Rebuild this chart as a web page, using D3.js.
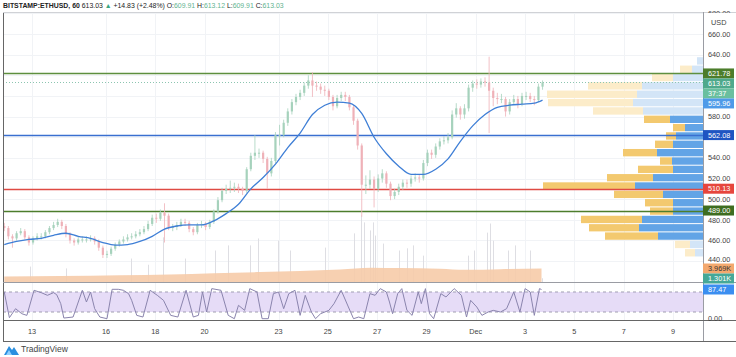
<!DOCTYPE html>
<html><head><meta charset="utf-8">
<script src="https://cdn.jsdelivr.net/npm/d3@7"></script>
<style>html,body{margin:0;padding:0;background:#fff;overflow:hidden}</style>
</head><body><svg id="c" width="736" height="357"></svg>
<script>
// ---------- DATA ----------
const startTime = Date.UTC(2020, 10, 11, 21); // first 4h candle
const candleHours = 4;
const open0 = 474;
const closes = [472,464,462,467,469,463,458,462,464,464,468,472,475,478,474,466,460,458,461,461,
461,462,459,453,446,447,452,456,459,461,463,464,466,468,471,476,482,481,487,484,
473,473,475,478,477,471,468,475,476,473,478,488,499,508,510,511,512,510,508,529,
542,545,545,539,525,537,562,562,574,585,594,599,603,610,615,610,609,606,605,599,
590,598,601,599,589,576,552,514,514,519,510,520,525,515,503,507,512,516,515,520,
521,520,535,545,543,551,556,557,560,582,588,582,588,608,612,611,614,613,605,598,
597,597,585,594,597,592,600,600,597,596,609,613.03];
const highs = [477,474,466,469,472,471,465,464,467,467,470,474,478,481,480,476,468,462,464,464,
464,465,464,461,455,450,454,458,461,464,466,467,469,471,474,479,485,486,490,496,
486,476,478,481,481,479,473,477,479,478,480,490,502,511,514,518,516,515,512,531,
545,562,549,547,541,540,565,572,577,588,597,602,606,613,620,623,614,612,610,607,
601,601,604,604,601,591,578,554,523,528,522,524,529,527,517,510,515,519,519,523,
525,524,538,548,548,554,559,561,564,586,593,590,592,611,615,616,617,618,638,608,
603,602,599,597,601,600,603,604,603,600,612,615];
const lows = [469,461,453,460,465,461,455,456,460,461,462,466,470,473,471,463,457,455,456,458,
458,459,456,450,443,443,445,450,454,457,459,461,462,464,466,469,474,477,479,458,
470,469,470,473,474,468,465,466,472,470,471,476,486,497,505,506,507,506,504,506,
527,538,540,535,510,522,535,552,560,571,582,591,596,600,607,599,605,602,600,596,
586,588,595,595,586,572,548,483,505,510,492,507,516,511,499,500,504,509,511,512,
517,516,518,532,539,540,548,553,554,558,579,577,578,585,604,607,608,609,564,590,
592,593,580,582,592,588,590,596,594,591,594,606];
// moving average, every 12h, plus last value
const maHours = [0,12,24,36,48,60,72,84,96,108,120,132,144,156,168,180,192,204,216,228,240,252,264,276,288,300,312,324,336,348,360,372,384,396,408,420,432,444,456,468,480,492,504,516,524];
const maValues = [456,459,461,462,465,467,464,462,458,455.5,456,459,464,471,474,475,475,479,486,495,510,521,534,550,564,582,591,594,593,583,560,544,532,524,524,529,539,556,571,582,589,591,592,593,595.96];
// volume (thousands) – visible spikes
const volHours = [25,60,123,140,155,176,205,218,239,247,266,278,312,340,347,350,356,359,361,369,384,392,398,408,451,457,470,473,476,490,497,512,523];
const volValues = [4.5,4.0,6.7,5.0,12.5,6.7,8.9,10.3,10.3,12.2,11.6,8.9,9.7,13.6,18.5,16.6,14.4,16.6,13.0,10.8,8.9,9.5,10.3,7.5,7.5,8.9,13.8,16.3,11.6,8.9,10.3,8.9,1.301];
// volume moving average (thousands)
const volMaHours = [0,54,113,161,204,249,288,327,357,385,424,449,483,523];
const volMaValues = [1.8,1.9,2.1,2.3,2.7,3.0,3.3,3.7,4.2,4.1,3.9,3.6,3.8,3.969];
// Stoch RSI %K
const stochHours = [0,5,11,17,22,29,36,42,48,51,55,58,67,76,80,84,88,93,100,105,111,116,121,124,129,135,142,149,155,162,169,177,184,189,193,197,202,211,218,224,228,234,239,246,251,257,262,267,272,277,283,288,293,299,303,308,316,321,328,335,340,345,350,356,361,366,372,375,378,383,387,392,397,403,406,410,414,418,425,430,438,445,450,454,460,465,471,476,483,489,496,502,507,512,516,521,523];
const stochValues = [80,3,30,15,10,85,78,70,78,72,45,2,5,85,50,80,30,5,0,88,88,85,75,55,10,5,85,70,55,10,5,85,5,10,80,20,90,85,10,0,40,25,90,80,0,0,75,80,30,75,85,10,70,20,0,15,25,45,85,35,0,5,0,75,70,90,80,50,15,75,90,25,10,80,45,90,15,0,75,65,90,70,5,55,35,10,20,25,20,30,80,20,90,80,10,90,87.47];
// volume profile (24 rows)
const vpRowLow = [444,452.1,460.2,468.3,476.3,484.4,492.5,500.6,508.7,516.8,524.8,532.9,541,549.1,557.2,565.3,573.3,581.4,589.5,597.6,605.7,613.8,621.8,629.9];
const vpRowHigh = 638;
const vpUp =   [1.0,1.5,5.3,5.0,6.1,2.3,2.8,4.9,9.2,4.6,3.5,1.2,3.4,1.8,1.0,1.2,2.6,5.0,8.5,9.0,5.4,2.1,1.2,0];
const vpDown = [0.8,1.3,4.5,6.4,6.1,3.0,3.0,4.0,6.8,5.0,3.0,3.1,4.6,3.0,2.7,1.8,3.3,6.0,7.0,6.6,6.1,3.0,1.1,0.6];
const valueAreaLow = 460.2, valueAreaHigh = 581.4;
// levels
const levels = [621.78, 562.08, 510.13, 489.00];
const levelColors = ["#5e8f3e", "#3a6fd0", "#df4a43", "#4d7d2c"];
const lastPrice = 613.03;
const priceTicks = [440,460,480,500,520,540,560,580,600,620,640,660,680];
const dateTicks = [[2020,10,13,"13"],[2020,10,16,"16"],[2020,10,18,"18"],[2020,10,20,"20"],[2020,10,23,"23"],[2020,10,25,"25"],[2020,10,27,"27"],[2020,10,29,"29"],[2020,11,1,"Dec"],[2020,11,3,"3"],[2020,11,5,"5"],[2020,11,7,"7"],[2020,11,9,"9"]];

// ---------- SCALES ----------
const H = 3600e3;
const tAt = h => new Date(startTime + h * H);
const x = d3.scaleUtc().domain([new Date(Date.UTC(2020,10,13)), new Date(Date.UTC(2020,11,9))]).range([32, 673]);
const y = d3.scaleLinear().domain([440, 660]).range([261.1, 34]);
const yVol = d3.scaleLinear().domain([0, 10]).range([283, 246.5]);
const yOsc = d3.scaleLinear().domain([0, 100]).range([318.7, 285.3]);
const wVP = d3.scaleLinear().domain([0, 16]).range([0, 160]);

const L = 3, R = 703, T = 12, SEP = 282.5, AX = 320.5, AXB = 341;
const FONT = "'Liberation Sans', Arial, sans-serif";

const svg = d3.select("#c");
svg.append("rect").attr("width", 736).attr("height", 357).attr("fill", "#fff");
const defs = svg.append("defs");
defs.append("clipPath").attr("id", "main").append("rect").attr("x", L).attr("y", T).attr("width", R - L).attr("height", SEP - T);
defs.append("clipPath").attr("id", "osc").append("rect").attr("x", L).attr("y", SEP).attr("width", R - L).attr("height", AX - SEP);

// grid
const grid = svg.append("g");
dateTicks.forEach(d => {
  const xx = Math.round(x(new Date(Date.UTC(d[0], d[1], d[2])))) + 0.5;
  grid.append("line").attr("x1", xx).attr("x2", xx).attr("y1", T).attr("y2", AX).attr("stroke", "#f1f3f6");
});
priceTicks.forEach(p => {
  const yy = Math.round(y(p)) + 0.5;
  if (yy > T && yy < SEP) grid.append("line").attr("x1", L).attr("x2", R).attr("y1", yy).attr("y2", yy).attr("stroke", "#f1f3f6");
});

const main = svg.append("g").attr("clip-path", "url(#main)");

// volume spikes
volHours.forEach((h, i) => {
  const xx = Math.round(x(tAt(h))) + 0.5;
  main.append("line").attr("x1", xx).attr("x2", xx).attr("y1", yVol(0)).attr("y2", yVol(volValues[i]))
    .attr("stroke", "#dedee3").attr("stroke-width", 1);
});
// volume MA area
const volMa = volMaHours.map((h, i) => [h, volMaValues[i]]);
main.append("path").datum(volMa)
  .attr("d", d3.area().x(d => x(tAt(d[0]))).y0(yVol(0)).y1(d => yVol(d[1])).curve(d3.curveMonotoneX))
  .attr("fill", "#f6cba9").attr("fill-opacity", 0.9);

// volume profile
vpRowLow.forEach((lo, k) => {
  const hi = k < vpRowLow.length - 1 ? vpRowLow[k + 1] : vpRowHigh;
  const y0 = y(hi) + 0.5, h = y(lo) - y(hi) - 1;
  const pale = lo < valueAreaLow || lo >= valueAreaHigh;
  const wd = wVP(vpDown[k]), wu = wVP(vpUp[k]);
  main.append("rect").attr("x", R - wd).attr("y", y0).attr("width", wd).attr("height", h)
    .attr("fill", pale ? "#d3e5f7" : "#62a4e6");
  main.append("rect").attr("x", R - wd - wu).attr("y", y0).attr("width", wu).attr("height", h)
    .attr("fill", pale ? "#fcecc9" : "#f3c96f");
});

// level lines
levels.forEach((p, i) => {
  const yy = Math.round(y(p)) + 0.5;
  main.append("line").attr("x1", L).attr("x2", R).attr("y1", yy).attr("y2", yy)
    .attr("stroke", levelColors[i]).attr("stroke-width", 1.3);
});
// last price dotted
main.append("line").attr("x1", L).attr("x2", R).attr("y1", Math.round(y(lastPrice)) + 0.5).attr("y2", Math.round(y(lastPrice)) + 0.5)
  .attr("stroke", "#8cc5b0").attr("stroke-dasharray", "1,2");

// candles
const candles = closes.map((c, i) => ({ t: tAt(i * candleHours), o: i ? closes[i - 1] : open0, h: highs[i], l: lows[i], c }));
const cg = main.append("g");
candles.forEach(d => {
  const up = d.c >= d.o;
  const col = up ? "#a6d2bc" : "#efb1b8";
  const xx = x(d.t);
  cg.append("line").attr("x1", xx).attr("x2", xx).attr("y1", y(d.h)).attr("y2", y(d.l)).attr("stroke", col).attr("stroke-width", 0.8);
  const top = y(Math.max(d.o, d.c)), bot = y(Math.min(d.o, d.c));
  cg.append("rect").attr("x", xx - 1.1).attr("y", top).attr("width", 2.2).attr("height", Math.max(1, bot - top)).attr("fill", col);
});

// MA
const ma = maHours.map((h, i) => [h, maValues[i]]);
main.append("path").datum(ma)
  .attr("d", d3.line().x(d => x(tAt(d[0]))).y(d => y(d[1])).curve(d3.curveMonotoneX))
  .attr("fill", "none").attr("stroke", "#3f7fd6").attr("stroke-width", 1.3);

// oscillator pane
const osc = svg.append("g").attr("clip-path", "url(#osc)");
osc.append("rect").attr("x", L).attr("width", R - L).attr("y", yOsc(80)).attr("height", yOsc(20) - yOsc(80)).attr("fill", "#e6dcf7");
[80, 20].forEach(v => osc.append("line").attr("x1", L).attr("x2", R).attr("y1", yOsc(v)).attr("y2", yOsc(v))
  .attr("stroke", "#8d8aa0").attr("stroke-dasharray", "3,3").attr("stroke-width", 0.8));
const st = stochHours.map((h, i) => [h, stochValues[i]]);
osc.append("path").datum(st)
  .attr("d", d3.line().x(d => x(tAt(d[0]))).y(d => yOsc(d[1])))
  .attr("fill", "none").attr("stroke", "#8a84ad").attr("stroke-width", 1);

// frame
const fr = svg.append("g").attr("stroke", "#9a9ca3").attr("shape-rendering", "crispEdges");
fr.append("line").attr("x1", L).attr("x2", L).attr("y1", T).attr("y2", AXB).attr("stroke", "#666");
fr.append("line").attr("x1", L).attr("x2", 736).attr("y1", T).attr("y2", T).attr("stroke", "#d0d2d6");
fr.append("line").attr("x1", R).attr("x2", R).attr("y1", T).attr("y2", AXB);
fr.append("line").attr("x1", L).attr("x2", 736).attr("y1", SEP).attr("y2", SEP);
fr.append("line").attr("x1", L).attr("x2", 736).attr("y1", AX).attr("y2", AX).attr("stroke", "#666");
fr.append("line").attr("x1", L).attr("x2", 736).attr("y1", AXB).attr("y2", AXB).attr("stroke", "#666");

// label boxes (positions computed first, so overlapping tick labels can be hidden)
const BOXH = 10;
const boxes = [
  { txt: "621.78", bg: "#4c7d2b", fg: "#fff", yy: y(621.78) },
  { txt: "613.03", bg: "#4fa98c", fg: "#fff", yy: y(613.03) },
  { txt: "37:37", bg: "#6abf9f", fg: "#fff", yy: y(613.03) + 10 },
  { txt: "595.96", bg: "#4f9ae8", fg: "#fff", yy: y(595.96) },
  { txt: "562.08", bg: "#1f55c2", fg: "#fff", yy: y(562.08) },
  { txt: "510.13", bg: "#e6463d", fg: "#fff", yy: y(510.13) },
  { txt: "489.00", bg: "#3e6d20", fg: "#fff", yy: y(489.00) },
  { txt: "3.969K", bg: "#f3a86e", fg: "#333", yy: yVol(3.969) },
  { txt: "1.301K", bg: "#45a897", fg: "#fff", yy: yVol(1.301) },
  { txt: "87.47", bg: "#3b8ef0", fg: "#fff", yy: yOsc(87.47) }
];
for (let i = 1; i < boxes.length; i++) if (boxes[i].yy < boxes[i - 1].yy + BOXH) boxes[i].yy = boxes[i - 1].yy + BOXH;

// price axis labels
const ax = svg.append("g").attr("font-family", FONT).attr("font-size", 7.3).attr("fill", "#444");
priceTicks.forEach(p => {
  let yy = y(p);
  let nearest = null;
  boxes.forEach(b => { if (!nearest || Math.abs(b.yy - yy) < Math.abs(nearest.yy - yy)) nearest = b; });
  const d = yy - nearest.yy;
  if (Math.abs(d) < 6.5) return;               // hidden behind a label box
  if (Math.abs(d) < 9.5) yy += Math.sign(d) * (9.5 - Math.abs(d)); // nudge clear of the box
  ax.append("text").attr("x", 708).attr("y", yy).attr("dy", "0.35em").text(p.toFixed(2));
});
svg.append("rect").attr("x", 704).attr("y", T + 1).attr("width", 31).attr("height", 4).attr("fill", "#fff");
ax.append("text").attr("x", 711).attr("y", 22.5).attr("dy", "0.35em").text("USD");
ax.append("text").attr("x", 708).attr("y", yOsc(0)).attr("dy", "0.35em").text("0.00");

boxes.forEach(b => {
  svg.append("rect").attr("x", 703).attr("y", b.yy - BOXH / 2).attr("width", 31).attr("height", BOXH).attr("fill", b.bg);
  svg.append("text").attr("x", 708).attr("y", b.yy).attr("dy", "0.35em").attr("font-family", FONT).attr("font-size", 7.3)
    .attr("fill", b.fg).text(b.txt);
});

// time axis labels
dateTicks.forEach(d => {
  ax.append("text").attr("x", x(new Date(Date.UTC(d[0], d[1], d[2])))).attr("y", 331).attr("dy", "0.35em")
    .attr("text-anchor", "middle").text(d[3]);
});

// header
const hd = svg.append("text").attr("x", 3).attr("y", 8).attr("font-family", FONT).attr("font-size", 6.9).attr("fill", "#222");
hd.append("tspan").attr("font-weight", "bold").text("BITSTAMP:ETHUSD, 60");
hd.append("tspan").text(" 613.03 ");
hd.append("tspan").attr("fill", "#3aa57e").text("▲");
hd.append("tspan").text(" +14.83 (+2.48%) O:");
hd.append("tspan").attr("fill", "#5fb38f").text("609.91");
hd.append("tspan").text(" H:");
hd.append("tspan").attr("fill", "#5fb38f").text("613.12");
hd.append("tspan").text(" L:");
hd.append("tspan").attr("fill", "#5fb38f").text("609.91");
hd.append("tspan").text(" C:");
hd.append("tspan").attr("fill", "#5fb38f").text("613.03");

// logo
svg.append("path").attr("d", "M4,355 L9,346 L12,350 L14,347 L19,355 Z").attr("fill", "#2a8fe0");
svg.append("path").attr("d", "M6,355 L9,350 L12,355 Z").attr("fill", "#8fd0ff");
svg.append("text").attr("x", 21).attr("y", 352).attr("font-family", FONT).attr("font-size", 8.5).attr("fill", "#444").text("TradingView");
</script></body></html>
